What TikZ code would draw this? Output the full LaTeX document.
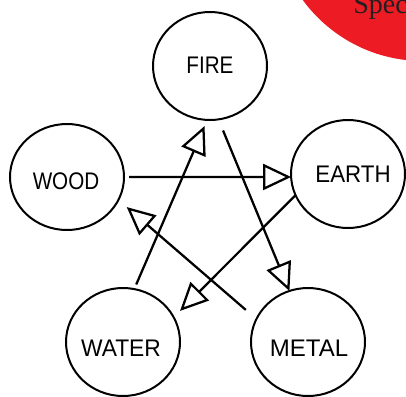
\documentclass[tikz,border=0pt]{standalone}
\usepackage{fontspec}
\setmainfont{Liberation Sans}
\newfontfamily\serifsp{Liberation Serif}
\usetikzlibrary{arrows.meta,shapes.geometric}
\definecolor{redc}{RGB}{237,28,36}
\definecolor{inkc}{RGB}{35,31,32}
\begin{document}
\begin{tikzpicture}[x=0.75pt,y=-0.75pt,
  elem/.style={draw, ellipse, line width=1.5pt, minimum width=85.5pt, minimum height=81pt, inner sep=0pt, outer sep=0pt},
  lbl/.style={font=\fontsize{18}{18}\selectfont, inner sep=0pt},
  conn/.style={line width=1.7pt, -{Triangle[open, length=21pt, width=19.5pt]}}]
\useasboundingbox (0,0) rectangle (406,396);
\clip (0,0) rectangle (406,396);
% red corner decoration
\fill[redc] (423,-88) circle [radius=149];
\node[anchor=base west, text=inkc, font=\serifsp\fontsize{21}{21}\selectfont, inner sep=0pt] (spec) at (353,13) {Spec};
% elements
\node[elem] (fire) at (210,66) {};
\node[elem, minimum height=79.5pt] (wood) at (67,177) {};
\node[elem] (earth) at (348,174) {};
\node[elem] (water) at (123,342) {};
\node[elem] (metal) at (308,342) {};
\node[lbl] (fireT) at (210,65) {\scalebox{0.86}[1]{FIRE}};
\node[lbl] (woodT) at (66,181) {\scalebox{0.86}[1]{WOOD}};
\node[lbl] (earthT) at (353,174) {\scalebox{0.93}[1]{EARTH}};
\node[lbl] (waterT) at (121,348) {\scalebox{0.95}[1]{WATER}};
\node[lbl] (metalT) at (309,348) {METAL};
% connectors
\draw[conn, shorten <=3.75pt] (wood.east) -- (earth.183);
\draw[conn, shorten <=9pt] (fire.-81) -- (metal.110);
\draw[conn, shorten >=6.75pt] (earth.202) -- (water.26);
\draw[conn, shorten <=10.5pt, shorten >=8.25pt] (metal.156) -- (wood.-24);
\draw[conn, shorten <=3.75pt, shorten >=5pt] (water.78.5) -- (fire.267.5);
\end{tikzpicture}
\end{document}
